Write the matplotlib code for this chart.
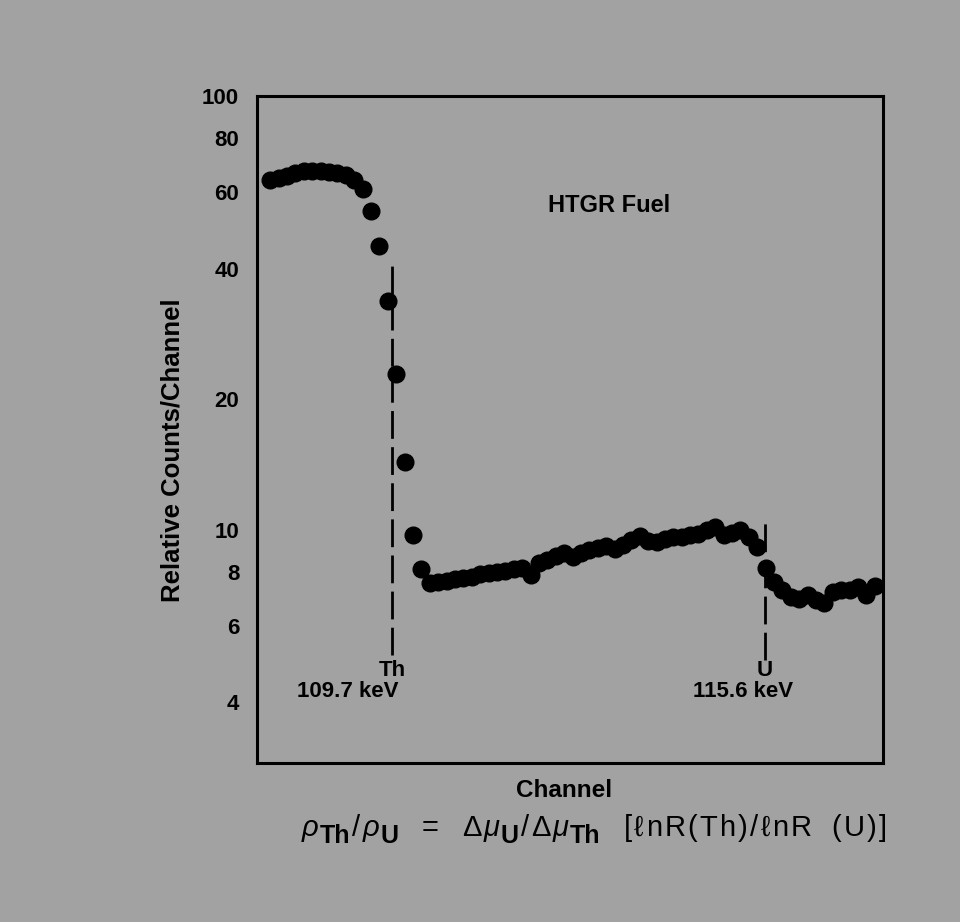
import numpy as np
import matplotlib.pyplot as plt
from matplotlib.ticker import FixedLocator, FixedFormatter, NullLocator

# relative counts per channel
counts = [
    64.0, 64.7, 65.4, 66.5, 67.2, 67.2, 67.2, 66.8, 66.5, 65.8, 64.0, 61.1,
    54.3, 45.1, 33.7, 22.8, 14.3, 9.74, 8.13, 7.55,
    7.59, 7.63, 7.71, 7.75, 7.79, 7.92, 7.96, 8.00, 8.04, 8.13, 8.17, 7.88,
    8.39, 8.53, 8.71, 8.85, 8.67, 8.85, 8.99, 9.09, 9.19, 9.04, 9.24, 9.48,
    9.69, 9.43, 9.38, 9.53, 9.63, 9.63, 9.74, 9.79, 10.0, 10.16, 9.74, 9.84,
    10.0, 9.63, 9.14, 8.17, 7.59, 7.27, 7.01, 6.93, 7.08, 6.90, 6.79, 7.20,
    7.27, 7.27, 7.39, 7.08, 7.43,
]
channels = np.arange(len(counts))

yticks = [4, 6, 8, 10, 20, 40, 60, 80, 100]

th_edge = 14.5   # 109.7 keV
u_edge = 58.9    # 115.6 keV

# caption formula, one token at a time (g = greek, s = subscript, n = plain)
formula_tokens = ['ρ', 'Th', '/', 'ρ', 'U', '=', 'Δ', 'μ', 'U', '/', 'Δ', 'μ',
                  'Th', '[', 'ℓ', 'n', 'R', '(', 'T', 'h', ')', '/', 'ℓ',
                  'n', 'R', '(', 'U', ')', ']']
formula_kinds = ['g', 's', 'n', 'g', 's', 'n', 'n', 'g', 's', 'n', 'n', 'g',
                 's', 'n', 'n', 'n', 'n', 'n', 'n', 'n', 'n', 'n', 'n',
                 'n', 'n', 'n', 'n', 'n', 'n']

bg = '#a2a2a2'
font = 'Liberation Sans'

fig = plt.figure(figsize=(9.6, 9.22), dpi=100, facecolor=bg)
ax = fig.add_axes([0.268, 0.1725, 0.652, 0.7234], facecolor=bg)

ax.plot(channels, counts, 'o', color='black', markersize=12, zorder=3)

ax.plot([th_edge, th_edge], [5.15, 42.4], color='black', lw=2,
        dashes=(10, 3), zorder=2)
ax.plot([u_edge, u_edge], [5.0, 10.5], color='black', lw=2,
        dashes=(10, 3), zorder=2)

ax.set_yscale('log')
ax.set_ylim(2.9, 100)
ax.set_xlim(-1.55, 73.0)

ax.yaxis.set_major_locator(FixedLocator(yticks))
ax.yaxis.set_major_formatter(FixedFormatter([str(t) for t in yticks]))
ax.yaxis.set_minor_locator(NullLocator())
ax.xaxis.set_major_locator(NullLocator())
ax.xaxis.set_minor_locator(NullLocator())
ax.tick_params(axis='y', length=0, pad=13, labelsize=16)
for lab in ax.get_yticklabels():
    lab.set_fontfamily(font)
    lab.set_fontweight('bold')

for sp in ax.spines.values():
    sp.set_linewidth(2.2)
    sp.set_color('black')

txt = dict(fontsize=16, fontweight='bold', family=font, color='black')
ax.text(th_edge, 4.73, 'Th', ha='center', va='center', **txt)
ax.text(15.3, 4.24, '109.7 keV', ha='right', va='center', **txt)
ax.text(u_edge, 4.73, 'U', ha='center', va='center', **txt)
ax.text(56.3, 4.24, '115.6 keV', ha='center', va='center', **txt)
fig.text(609 / 960, 1 - 206 / 922, 'HTGR Fuel', ha='center', va='center',
         fontsize=17, fontweight='bold', family=font)

fig.text(173 / 960, 1 - 450 / 922, 'Relative Counts/Channel', rotation=90,
         ha='center', va='center', fontsize=18.5, fontweight='bold',
         family=font)
fig.text(564 / 960, 1 - 790 / 922, 'Channel', ha='center', va='center',
         fontsize=17.5, fontweight='bold', family=font)

# caption formula, laid out piece by piece with a little extra spacing
base_y = 836
sub_drop = 7
x_left, x_right = 302, 887
texts, weights = [], []
for i, (tok, kind) in enumerate(zip(formula_tokens, formula_kinds)):
    prev = formula_tokens[i - 1] if i else ''
    if kind == 's':
        t = fig.text(0, 1 - (base_y + sub_drop) / 922, tok, fontsize=18,
                     fontweight='bold', family=[font, 'DejaVu Sans'],
                     va='baseline', ha='left')
        w = 0.1
    else:
        t = fig.text(0, 1 - base_y / 922, tok, fontsize=21,
                     style='italic' if kind == 'g' else 'normal',
                     family=[font, 'DejaVu Sans'], va='baseline', ha='left')
        w = 0.3
        if tok in ('=', '[') or prev == '=':
            w = 3.0
        elif tok == '(' and prev == 'R' and i > 20:
            w = 2.5
    texts.append(t)
    weights.append(w if i else 0)

renderer = fig.canvas.get_renderer()
widths = [t.get_window_extent(renderer).width for t in texts]
gap = max(0.0, (x_right - x_left - sum(widths)) / sum(weights))
x = x_left
for t, wd, w in zip(texts, widths, weights):
    x += gap * w
    t.set_x(x / 960)
    x += wd

fig.savefig('out.png', dpi=100, facecolor=bg)
